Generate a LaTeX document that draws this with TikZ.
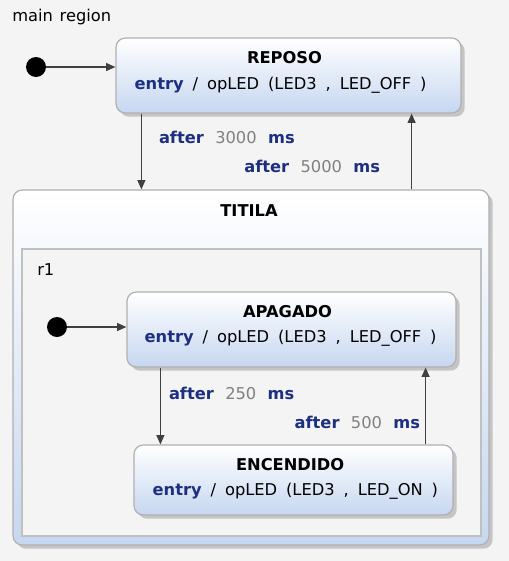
\documentclass[tikz,border=0pt]{standalone}
\usepackage{fontspec}
\setmainfont{DejaVu Sans}
\usetikzlibrary{arrows.meta, positioning, fit, shadows}
\definecolor{bgc}{RGB}{244,244,244}
\definecolor{stblue}{RGB}{198,215,240}
\definecolor{stline}{RGB}{176,176,176}
\definecolor{kwc}{RGB}{28,47,128}
\definecolor{numc}{RGB}{128,128,128}
\definecolor{arrc}{RGB}{64,64,64}
\newcommand{\widesp}[1]{\spaceskip #1\relax}
\newcommand{\kwd}[1]{{\bfseries\color{kwc}#1}}
\newcommand{\tnum}[1]{{\color{numc}#1}}
\newcommand{\entryline}[1]{\kwd{entry} / opLED (LED3 , #1 )}
\newcommand{\aftertime}[1]{\kwd{after} \tnum{#1} \kwd{ms}}

\begin{document}
\begin{tikzpicture}[x=0.75pt, y=-0.75pt,
		font={\fontsize{12.2}{14}\selectfont\widesp{0.55em}},
		box/.style={rectangle, draw=stline, line width=0.9pt, rounded corners=7pt, inner sep=0pt,
			top color=white, bottom color=stblue,
			drop shadow={shadow xshift=2.8pt, shadow yshift=-2.8pt, opacity=.4}},
		region/.style={rectangle, draw=stline!80, line width=0.9pt, fill=bgc, inner sep=0pt},
		ttl/.style={font={\fontsize{12.2}{14}\selectfont\bfseries}},
		init/.style={circle, fill=black, minimum size=15pt, inner sep=0pt},
		tr/.style={draw=arrc, line width=0.9pt, -{Triangle[length=7pt, width=6pt]}},
		lbl/.style={inner sep=0pt, font={\fontsize{12.2}{14}\selectfont\widesp{0.7em}}}
	]
	\path[use as bounding box, fill=bgc] (0,0) rectangle (509,561);
	\node[anchor=base west, inner sep=0pt, font={\fontsize{12.2}{14}\selectfont\widesp{0.42em}}] (mainreg) at (12,21) {main region};

	\node[box, fit={(116,38) (461,113)}] (rep) {};
	\node[ttl] (repT) at ([xshift=-3pt, yshift=-15.5pt]rep.north) {REPOSO};
	\node[anchor=west, inner sep=0pt] (repE) at ([xshift=14.25pt, yshift=-36pt]rep.north west) {\entryline{LED\_OFF}};

	\node[box, fit={(13,190) (489,545)}] (tit) {};
	\node[ttl] (titT) at ([xshift=-1.5pt, yshift=-15.75pt]tit.north) {TITILA};
	\node[region, fit={(22,249) (481,536)}] (r1) {};
	\node[anchor=base west, inner sep=0pt] (r1T) at (37,275) {r1};

	\node[box, fit={(127,292) (456,367)}] (apa) {};
	\node[ttl] (apaT) at ([xshift=-3pt, yshift=-15pt]apa.north) {APAGADO};
	\node[anchor=west, inner sep=0pt] (apaE) at ([xshift=13.5pt, yshift=-35.5pt]apa.north west) {\entryline{LED\_OFF}};

	\node[box, fit={(134,445) (453,515)}] (enc) {};
	\node[ttl] (encT) at ([xshift=-2.5pt, yshift=-15pt]enc.north) {ENCENDIDO};
	\node[anchor=west, inner sep=0pt] (encE) at ([xshift=14.25pt, yshift=-35.25pt]enc.north west) {\entryline{LED\_ON}};

	\node[init] (i0) at (36,67) {};
	\node[init] (i1) at (57,327) {};

	\draw[tr] (i0) -- (i0 -| rep.west);
	\draw[tr] ([xshift=19.5pt]rep.south west) -- node[lbl, pos=.31, anchor=west, xshift=12.75pt] {\aftertime{3000}} ([xshift=19.5pt]rep.south west |- tit.north);
	\draw[tr] ([xshift=-37.5pt]rep.south east |- tit.north) -- node[lbl, pos=.3, anchor=east, xshift=-23.25pt] {\aftertime{5000}} ([xshift=-37.5pt]rep.south east);

	\draw[tr] (i1) -- (i1 -| apa.west);
	\draw[tr] ([xshift=25.5pt]apa.south west) -- node[lbl, pos=.33, anchor=west, xshift=6pt] {\aftertime{250}} ([xshift=25.5pt]apa.south west |- enc.north);
	\draw[tr] ([xshift=-23.25pt]apa.south east |- enc.north) -- node[lbl, pos=.28, anchor=east, xshift=-3.75pt] {\aftertime{500}} ([xshift=-23.25pt]apa.south east);
\end{tikzpicture}
\end{document}
